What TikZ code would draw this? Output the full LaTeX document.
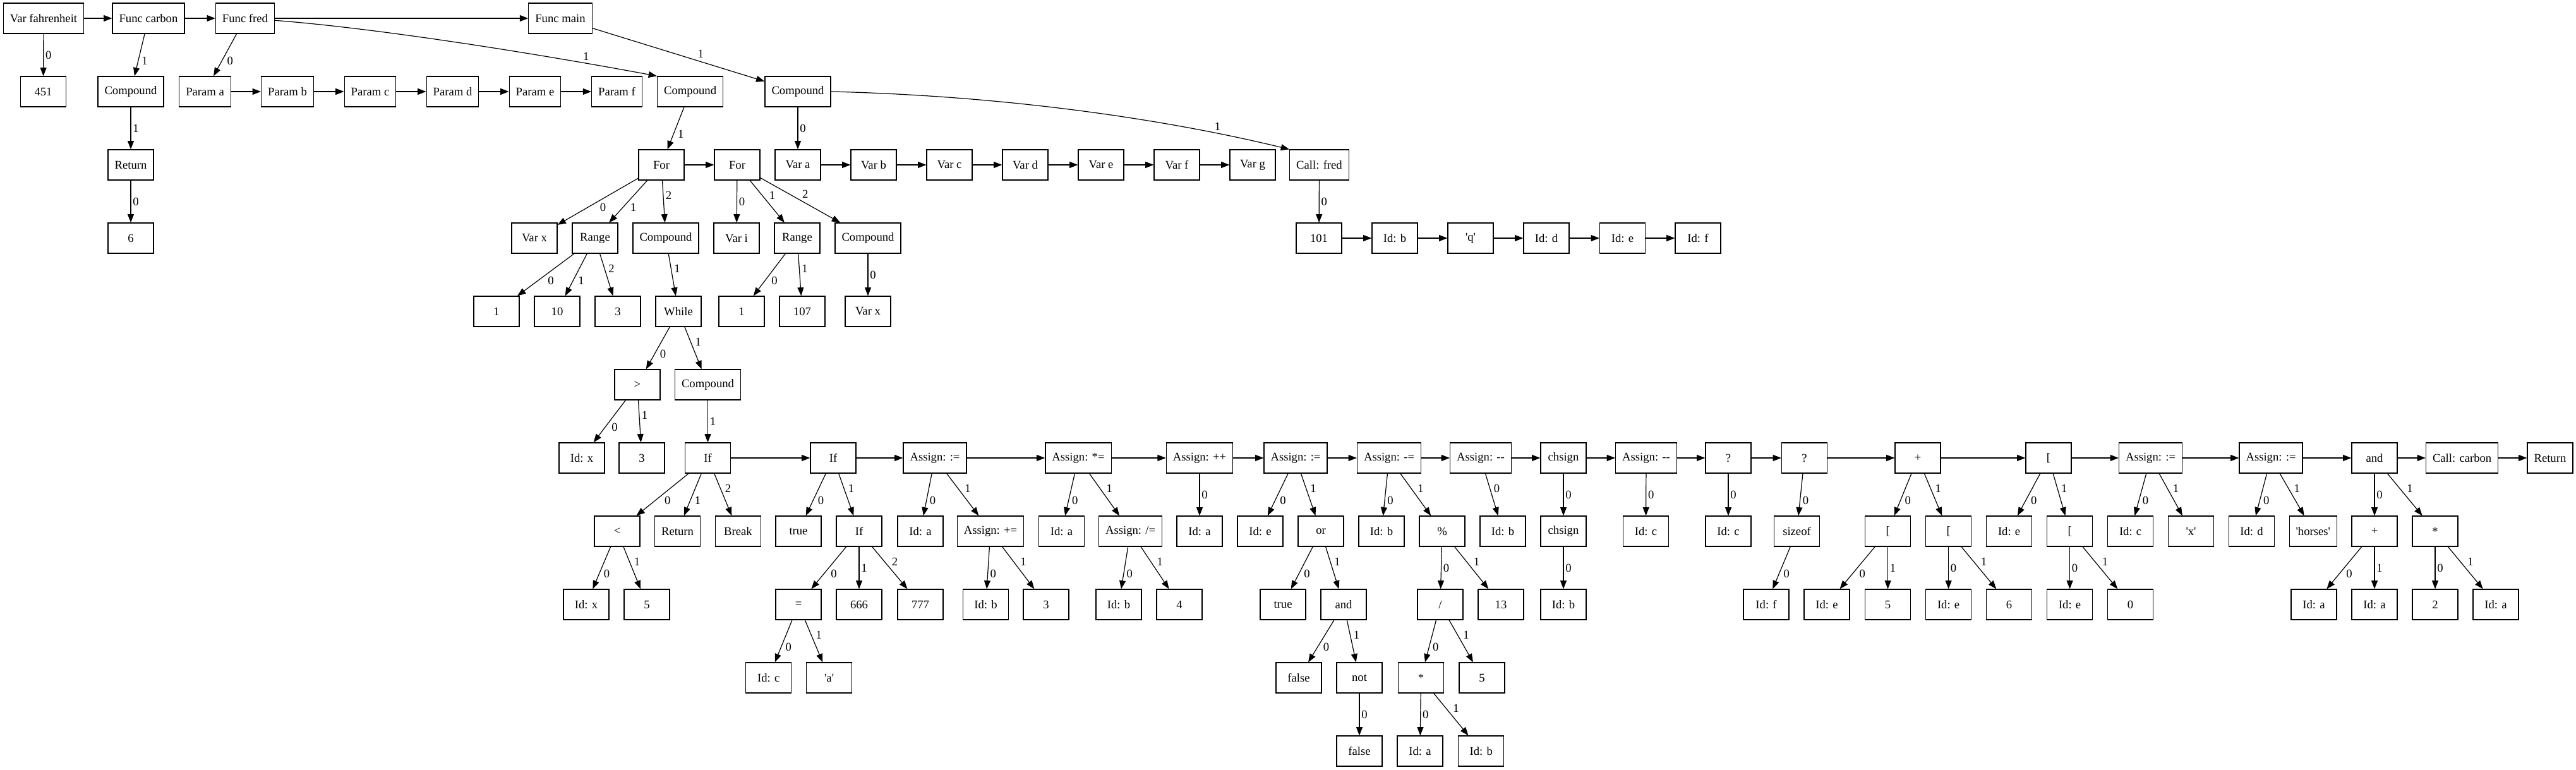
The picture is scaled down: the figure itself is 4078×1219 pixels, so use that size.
\documentclass[tikz,border=0pt]{standalone}
\usepackage{fontspec}
\setmainfont{Liberation Serif}[Ligatures=TeXOff]
\usetikzlibrary{arrows.meta}

\begin{document}
\begin{tikzpicture}[
    x=0.75pt, y=-0.75pt,
    box/.style={draw, line width=0.9pt, rectangle, minimum width=54pt, minimum height=36pt,
        inner xsep=7.9pt, inner ysep=2pt, font=\fontsize{14}{16}\selectfont},
    link/.style={-{Triangle[length=10pt, width=7.5pt]}, line width=0.9pt},
    lbl/.style={midway, auto, inner sep=2pt, font=\fontsize{14}{16}\selectfont},
]
    \useasboundingbox (0,0) rectangle (4078,1219);

    % row 0
    \node[box] (fahr) at (69,29) {Var fahrenheit};
    \node[box] (carbon) at (235,29) {Func carbon};
    \node[box] (fred) at (388,29) {Func fred};
    \node[box] (main) at (887,29) {Func main};

    % row 1
    \node[box] (n451) at (68.5,145) {451};
    \node[box] (cmpcarbon) at (207,145) {Compound};
    \node[box] (pa) at (324.6,145) {Param a};
    \node[box] (pb) at (455,145) {Param b};
    \node[box] (pc) at (586,145) {Param c};
    \node[box] (pd) at (716.5,145) {Param d};
    \node[box] (pe) at (847,145) {Param e};
    \node[box] (pf) at (976.5,145) {Param f};
    \node[box] (cmpfred) at (1092.6,145) {Compound};
    \node[box] (cmpmain) at (1263,145) {Compound};

    % row 2
    \node[box] (retcarbon) at (207,261) {Return};
    \node[box] (for1) at (1047,261) {For};
    \node[box] (for2) at (1167,261) {For};
    \node[box] (va) at (1263,261) {Var a};
    \node[box] (vb) at (1383,261) {Var b};
    \node[box] (vc) at (1503,261) {Var c};
    \node[box] (vd) at (1623,261) {Var d};
    \node[box] (ve) at (1743,261) {Var e};
    \node[box] (vf) at (1863,261) {Var f};
    \node[box] (vg) at (1983,261) {Var g};
    \node[box] (callfred) at (2088.5,261) {Call: fred};

    % row 3
    \node[box] (six) at (207,377) {6};
    \node[box] (varx) at (846,377) {Var x};
    \node[box] (range1) at (942,377) {Range};
    \node[box] (cmpfor1) at (1054,377) {Compound};
    \node[box] (vari) at (1166,377) {Var i};
    \node[box] (range2) at (1262,377) {Range};
    \node[box] (cmpfor2) at (1374,377) {Compound};
    \node[box] (n101) at (2088,377) {101};
    \node[box] (idb1) at (2208,377) {Id: b};
    \node[box] (qq) at (2328,377) {'q'};
    \node[box] (idd1) at (2448,377) {Id: d};
    \node[box] (ide1) at (2568.5,377) {Id: e};
    \node[box] (idf1) at (2688,377) {Id: f};

    % row 4
    \node[box] (one1) at (786,493) {1};
    \node[box] (ten) at (882,493) {10};
    \node[box] (three1) at (978,493) {3};
    \node[box] (whileloop) at (1074,493) {While};
    \node[box] (one2) at (1174,493) {1};
    \node[box] (n107) at (1270,493) {107};
    \node[box] (varx2) at (1374,493) {Var x};

    % row 5
    \node[box] (gt) at (1009,609) {>};
    \node[box] (cmpwhile) at (1120.5,609) {Compound};

    % row 6
    \node[box] (idx1) at (921,725) {Id: x};
    \node[box] (three2) at (1016,725) {3};
    \node[box] (if1) at (1120.5,725) {If};
    \node[box] (if2) at (1319,725) {If};
    \node[box] (asg1) at (1480,725) {Assign: :=};
    \node[box] (asg2) at (1707,725) {Assign: *=};
    \node[box] (asg3) at (1899,725) {Assign: ++};
    \node[box] (asg4) at (2051,725) {Assign: :=};
    \node[box] (asg5) at (2199,725) {Assign: -=};
    \node[box] (asg6) at (2344,725) {Assign: --};
    \node[box] (chs1) at (2475,725) {chsign};
    \node[box] (asg7) at (2606,725) {Assign: --};
    \node[box] (cond1) at (2736,725) {?};
    \node[box] (cond2) at (2856.5,725) {?};
    \node[box] (plus1) at (3036,725) {+};
    \node[box] (idx) at (3243,725) {[};
    \node[box] (asg8) at (3404.5,725) {Assign: :=};
    \node[box] (asg9) at (3595,725) {Assign: :=};
    \node[box] (and1) at (3759,725) {and};
    \node[box] (callcarbon) at (3897.6,725) {Call: carbon};
    \node[box] (ret2) at (4036.9,725) {Return};

    % row 7
    \node[box] (lt) at (977,841) {<};
    \node[box] (retif) at (1072.6,841) {Return};
    \node[box] (brk) at (1168.5,841) {Break};
    \node[box] (true1) at (1264,841) {true};
    \node[box] (if3) at (1360,841) {If};
    \node[box] (ida1) at (1457,841) {Id: a};
    \node[box] (asgpl) at (1568,841) {Assign: +=};
    \node[box] (ida2) at (1680.5,841) {Id: a};
    \node[box] (asgdiv) at (1789.6,841) {Assign: /=};
    \node[box] (ida3) at (1899,841) {Id: a};
    \node[box] (ide2) at (1995,841) {Id: e};
    \node[box] (or1) at (2091,841) {or};
    \node[box] (idb2) at (2187,841) {Id: b};
    \node[box] (mod1) at (2283,841) {\%};
    \node[box] (idb3) at (2379,841) {Id: b};
    \node[box] (chs2) at (2475,841) {chsign};
    \node[box] (idc2) at (2605.5,841) {Id: c};
    \node[box] (idc3) at (2736,841) {Id: c};
    \node[box] (sizeof1) at (2844.5,841) {sizeof};
    \node[box] (idxa) at (2988.6,841) {[};
    \node[box] (idxb) at (3084.6,841) {[};
    \node[box] (ide3) at (3180.6,841) {Id: e};
    \node[box] (idxc) at (3276.6,841) {[};
    \node[box] (idc4) at (3372.6,841) {Id: c};
    \node[box] (chx) at (3468.5,841) {'x'};
    \node[box] (idd2) at (3564.5,841) {Id: d};
    \node[box] (horses) at (3661.8,841) {'horses'};
    \node[box] (plus2) at (3759,841) {+};
    \node[box] (times2) at (3855,841) {*};

    % row 8
    \node[box] (idx2) at (928,957) {Id: x};
    \node[box] (five1) at (1024,957) {5};
    \node[box] (eq1) at (1264,957) {=};
    \node[box] (n666) at (1360,957) {666};
    \node[box] (n777) at (1457,957) {777};
    \node[box] (idb4) at (1560.5,957) {Id: b};
    \node[box] (three3) at (1656,957) {3};
    \node[box] (idb5) at (1771,957) {Id: b};
    \node[box] (four) at (1867,957) {4};
    \node[box] (true2) at (2031,957) {true};
    \node[box] (and2) at (2127,957) {and};
    \node[box] (div1) at (2280,957) {/};
    \node[box] (n13) at (2376,957) {13};
    \node[box] (idb6) at (2475,957) {Id: b};
    \node[box] (idf2) at (2796,957) {Id: f};
    \node[box] (ide4) at (2892,957) {Id: e};
    \node[box] (five2) at (2988.6,957) {5};
    \node[box] (ide5) at (3084.6,957) {Id: e};
    \node[box] (six2) at (3180.6,957) {6};
    \node[box] (ide6) at (3276.6,957) {Id: e};
    \node[box] (zero) at (3372.6,957) {0};
    \node[box] (ida4) at (3663,957) {Id: a};
    \node[box] (ida5) at (3759,957) {Id: a};
    \node[box] (two) at (3855,957) {2};
    \node[box] (ida6) at (3951,957) {Id: a};

    % row 9
    \node[box] (idc5) at (1216.7,1073) {Id: c};
    \node[box] (cha) at (1312.6,1073) {'a'};
    \node[box] (false1) at (2056,1073) {false};
    \node[box] (not1) at (2152,1073) {not};
    \node[box] (times1) at (2249.5,1073) {*};
    \node[box] (five3) at (2346,1073) {5};

    % row 10
    \node[box] (false2) at (2152,1189) {false};
    \node[box] (ida7) at (2248,1189) {Id: a};
    \node[box] (idb7) at (2344.7,1189) {Id: b};

    % top level
    \draw[link] (fahr) -- (carbon);
    \draw[link] (carbon) -- (fred);
    \draw[link] (fred) -- (main);
    \draw[link] (fahr) -- node[lbl]{0} (n451);
    \draw[link] (carbon) -- node[lbl]{1} (cmpcarbon);
    \draw[link] (cmpcarbon) -- node[lbl]{1} (retcarbon);
    \draw[link] (retcarbon) -- node[lbl]{0} (six);

    % fred
    \draw[link] (fred) -- node[lbl]{0} (pa);
    \draw[link] (pa) -- (pb);
    \draw[link] (pb) -- (pc);
    \draw[link] (pc) -- (pd);
    \draw[link] (pd) -- (pe);
    \draw[link] (pe) -- (pf);
    \draw[link] (fred.-4) .. controls (600,45) and (850,85) .. node[lbl, pos=0.8]{1} (cmpfred.north west);
    \draw[link] (cmpfred) -- node[lbl]{1} (for1);
    \draw[link] (for1) -- (for2);
    \draw[link] (for1) -- node[lbl]{0} (varx);
    \draw[link] (for1) -- node[lbl]{1} (range1);
    \draw[link] (for1) -- node[lbl]{2} (cmpfor1);
    \draw[link] (range1) -- node[lbl]{0} (one1);
    \draw[link] (range1) -- node[lbl]{1} (ten);
    \draw[link] (range1) -- node[lbl]{2} (three1);
    \draw[link] (cmpfor1) -- node[lbl]{1} (whileloop);
    \draw[link] (whileloop) -- node[lbl]{0} (gt);
    \draw[link] (whileloop) -- node[lbl]{1} (cmpwhile);
    \draw[link] (gt) -- node[lbl]{0} (idx1);
    \draw[link] (gt) -- node[lbl]{1} (three2);
    \draw[link] (cmpwhile) -- node[lbl]{1} (if1);
    \draw[link] (for2) -- node[lbl]{0} (vari);
    \draw[link] (for2) -- node[lbl]{1} (range2);
    \draw[link] (for2) -- node[lbl]{2} (cmpfor2);
    \draw[link] (range2) -- node[lbl]{0} (one2);
    \draw[link] (range2) -- node[lbl]{1} (n107);
    \draw[link] (cmpfor2) -- node[lbl]{0} (varx2);

    % main
    \draw[link] (main) -- node[lbl, pos=0.6]{1} (cmpmain);
    \draw[link] (cmpmain) -- node[lbl]{0} (va);
    \draw[link] (va) -- (vb);
    \draw[link] (vb) -- (vc);
    \draw[link] (vc) -- (vd);
    \draw[link] (vd) -- (ve);
    \draw[link] (ve) -- (vf);
    \draw[link] (vf) -- (vg);
    \draw[link] (cmpmain.east) .. controls (1600,152) and (1850,190) .. node[lbl, pos=0.8]{1} (callfred.north west);
    \draw[link] (callfred) -- node[lbl]{0} (n101);
    \draw[link] (n101) -- (idb1);
    \draw[link] (idb1) -- (qq);
    \draw[link] (qq) -- (idd1);
    \draw[link] (idd1) -- (ide1);
    \draw[link] (ide1) -- (idf1);

    % statement chain
    \draw[link] (if1) -- (if2);
    \draw[link] (if2) -- (asg1);
    \draw[link] (asg1) -- (asg2);
    \draw[link] (asg2) -- (asg3);
    \draw[link] (asg3) -- (asg4);
    \draw[link] (asg4) -- (asg5);
    \draw[link] (asg5) -- (asg6);
    \draw[link] (asg6) -- (chs1);
    \draw[link] (chs1) -- (asg7);
    \draw[link] (asg7) -- (cond1);
    \draw[link] (cond1) -- (cond2);
    \draw[link] (cond2) -- (plus1);
    \draw[link] (plus1) -- (idx);
    \draw[link] (idx) -- (asg8);
    \draw[link] (asg8) -- (asg9);
    \draw[link] (asg9) -- (and1);
    \draw[link] (and1) -- (callcarbon);
    \draw[link] (callcarbon) -- (ret2);

    % statement children
    \draw[link] (if1) -- node[lbl]{0} (lt);
    \draw[link] (if1) -- node[lbl]{1} (retif);
    \draw[link] (if1) -- node[lbl]{2} (brk);
    \draw[link] (lt) -- node[lbl]{0} (idx2);
    \draw[link] (lt) -- node[lbl]{1} (five1);
    \draw[link] (if2) -- node[lbl]{0} (true1);
    \draw[link] (if2) -- node[lbl]{1} (if3);
    \draw[link] (if3) -- node[lbl]{0} (eq1);
    \draw[link] (if3) -- node[lbl]{1} (n666);
    \draw[link] (if3) -- node[lbl]{2} (n777);
    \draw[link] (eq1) -- node[lbl]{0} (idc5);
    \draw[link] (eq1) -- node[lbl]{1} (cha);
    \draw[link] (asg1) -- node[lbl]{0} (ida1);
    \draw[link] (asg1) -- node[lbl]{1} (asgpl);
    \draw[link] (asgpl) -- node[lbl]{0} (idb4);
    \draw[link] (asgpl) -- node[lbl]{1} (three3);
    \draw[link] (asg2) -- node[lbl]{0} (ida2);
    \draw[link] (asg2) -- node[lbl]{1} (asgdiv);
    \draw[link] (asgdiv) -- node[lbl]{0} (idb5);
    \draw[link] (asgdiv) -- node[lbl]{1} (four);
    \draw[link] (asg3) -- node[lbl]{0} (ida3);
    \draw[link] (asg4) -- node[lbl]{0} (ide2);
    \draw[link] (asg4) -- node[lbl]{1} (or1);
    \draw[link] (or1) -- node[lbl]{0} (true2);
    \draw[link] (or1) -- node[lbl]{1} (and2);
    \draw[link] (and2) -- node[lbl]{0} (false1);
    \draw[link] (and2) -- node[lbl]{1} (not1);
    \draw[link] (not1) -- node[lbl]{0} (false2);
    \draw[link] (asg5) -- node[lbl]{0} (idb2);
    \draw[link] (asg5) -- node[lbl]{1} (mod1);
    \draw[link] (mod1) -- node[lbl]{0} (div1);
    \draw[link] (mod1) -- node[lbl]{1} (n13);
    \draw[link] (div1) -- node[lbl]{0} (times1);
    \draw[link] (div1) -- node[lbl]{1} (five3);
    \draw[link] (times1) -- node[lbl]{0} (ida7);
    \draw[link] (times1) -- node[lbl]{1} (idb7);
    \draw[link] (asg6) -- node[lbl]{0} (idb3);
    \draw[link] (chs1) -- node[lbl]{0} (chs2);
    \draw[link] (chs2) -- node[lbl]{0} (idb6);
    \draw[link] (asg7) -- node[lbl]{0} (idc2);
    \draw[link] (cond1) -- node[lbl]{0} (idc3);
    \draw[link] (cond2) -- node[lbl]{0} (sizeof1);
    \draw[link] (sizeof1) -- node[lbl]{0} (idf2);
    \draw[link] (plus1) -- node[lbl]{0} (idxa);
    \draw[link] (plus1) -- node[lbl]{1} (idxb);
    \draw[link] (idxa) -- node[lbl]{0} (ide4);
    \draw[link] (idxa) -- node[lbl]{1} (five2);
    \draw[link] (idxb) -- node[lbl]{0} (ide5);
    \draw[link] (idxb) -- node[lbl]{1} (six2);
    \draw[link] (idx) -- node[lbl]{0} (ide3);
    \draw[link] (idx) -- node[lbl]{1} (idxc);
    \draw[link] (idxc) -- node[lbl]{0} (ide6);
    \draw[link] (idxc) -- node[lbl]{1} (zero);
    \draw[link] (asg8) -- node[lbl]{0} (idc4);
    \draw[link] (asg8) -- node[lbl]{1} (chx);
    \draw[link] (asg9) -- node[lbl]{0} (idd2);
    \draw[link] (asg9) -- node[lbl]{1} (horses);
    \draw[link] (and1) -- node[lbl]{0} (plus2);
    \draw[link] (and1) -- node[lbl]{1} (times2);
    \draw[link] (plus2) -- node[lbl]{0} (ida4);
    \draw[link] (plus2) -- node[lbl]{1} (ida5);
    \draw[link] (times2) -- node[lbl]{0} (two);
    \draw[link] (times2) -- node[lbl]{1} (ida6);
\end{tikzpicture}
\end{document}
